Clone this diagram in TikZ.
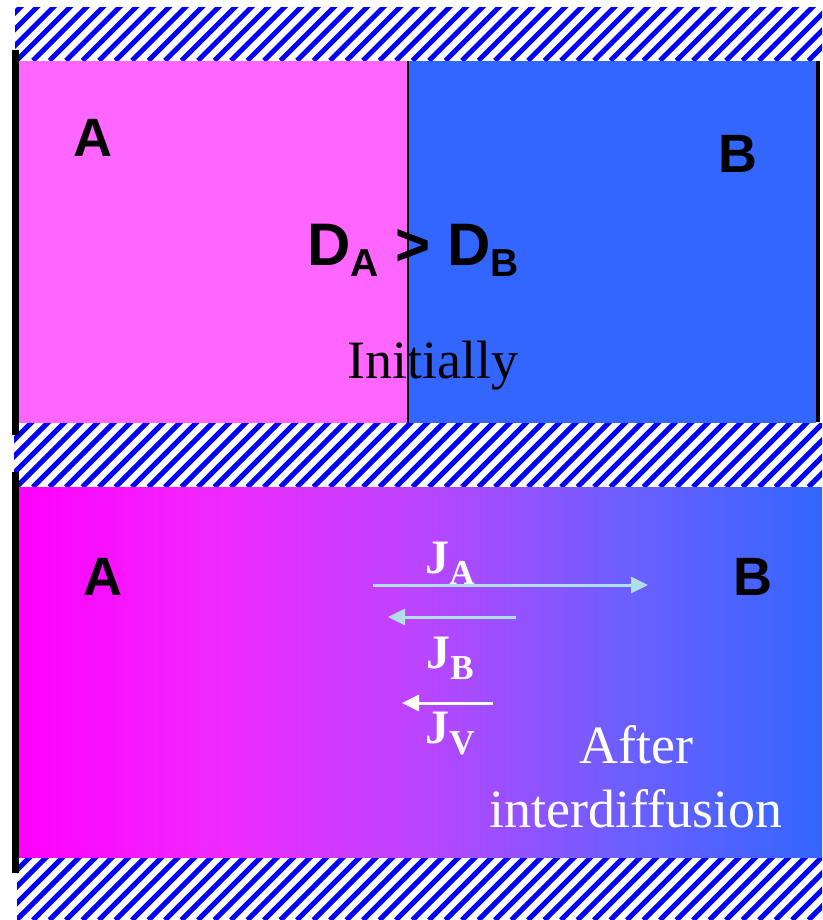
\documentclass[tikz,border=0pt]{standalone}
\usepackage{fontspec}
\setmainfont{Liberation Serif}
\setsansfont{Liberation Sans}
\usetikzlibrary{arrows.meta}
\definecolor{topPink}{RGB}{255,102,255}
\definecolor{topBlue}{RGB}{51,102,255}
\definecolor{hatchBlue}{RGB}{0,0,255}
\definecolor{fluxCyan}{RGB}{176,224,230}
\pgfdeclarehorizontalshading{interdiffshade}{100bp}{rgb(0bp)=(1,0,1); rgb(25bp)=(1,0,1);
    rgb(37.5bp)=(0.94,0.16,1); rgb(50bp)=(0.73,0.27,1); rgb(62.5bp)=(0.43,0.37,1);
    rgb(75bp)=(0.2,0.4,1); rgb(100bp)=(0.2,0.4,1)}
\newcommand{\lowsub}[2]{\raisebox{-11pt}{\fontsize{#1}{#1}\selectfont #2}}

\begin{document}
\begin{tikzpicture}[x=1pt, y=-1pt,
    bigletter/.style={font=\sffamily\bfseries\fontsize{54}{60}\selectfont, anchor=base, inner sep=0pt},
    serifbig/.style={font=\fontsize{54}{60}\selectfont, anchor=base, inner sep=0pt},
    fluxlabel/.style={font=\bfseries\fontsize{48}{52}\selectfont, anchor=base, inner sep=0pt, text=white},
    fluxarrow/.style={line width=3pt, -{Triangle[length=17pt,width=16pt]}}]
        \useasboundingbox (0,0) rectangle (822,920);

        % Bandes hachurées (parois)
        \foreach \ya/\yb/\xa in {8/60.7/15, 423/487/14, 857/920/17} {
            \begin{scope}
                \clip (\xa,\ya) rectangle (822,\yb);
                \fill[white] (\xa,\ya) rectangle (822,\yb);
                \foreach \k in {-6,...,54}
                    \draw[hatchBlue, line width=5pt] (\k*16.5,\yb) -- ++(80,-80);
            \end{scope}
        }

        % Etat initial
        \fill[topPink] (19,60.7) rectangle (408,423);
        \fill[topBlue] (408,60.7) rectangle (816,423);
        \draw[black, line width=1.5pt] (408,60.7) -- (408,423);
        \fill[black] (12,50) rectangle (19,435);
        \fill[black] (816,61) rectangle (820,422);

        \node[bigletter] (topA) at (93,157) {A};
        \node[bigletter] (topB) at (738,172) {B};
        \node[bigletter, font=\sffamily\bfseries\fontsize{60}{66}\selectfont] (dratio) at (413,265)
            {D\lowsub{39}{A} > D\lowsub{39}{B}};
        \node[serifbig] (initially) at (433,378) {Initially};

        % Après interdiffusion
        \shade[shading=interdiffshade] (19,487) rectangle (822,857);
        \fill[black] (12,472) rectangle (19,873);

        \node[bigletter] (botA) at (103,595) {A};
        \node[bigletter] (botB) at (753,595) {B};

        \coordinate (jaStart) at (373,585);
        \coordinate (jaEnd) at (648,585);
        \coordinate (jbStart) at (516,617);
        \coordinate (jbEnd) at (388,617);
        \coordinate (jvStart) at (493,703);
        \coordinate (jvEnd) at (402,703);
        \draw[fluxarrow, fluxCyan] (jaStart) -- (jaEnd);
        \draw[fluxarrow, fluxCyan] (jbStart) -- (jbEnd);
        \draw[fluxarrow, white] (jvStart) -- (jvEnd);

        \node[fluxlabel] (ja) at (450,573) {J\lowsub{35}{A}};
        \node[fluxlabel] (jb) at (450,668) {J\lowsub{35}{B}};
        \node[fluxlabel] (jv) at (450,743) {J\lowsub{35}{V}};

        \node[serifbig, text=white] (after) at (636,763) {After};
        \node[serifbig, text=white] (interdiff) at (636,827) {interdiffusion};
\end{tikzpicture}
\end{document}
